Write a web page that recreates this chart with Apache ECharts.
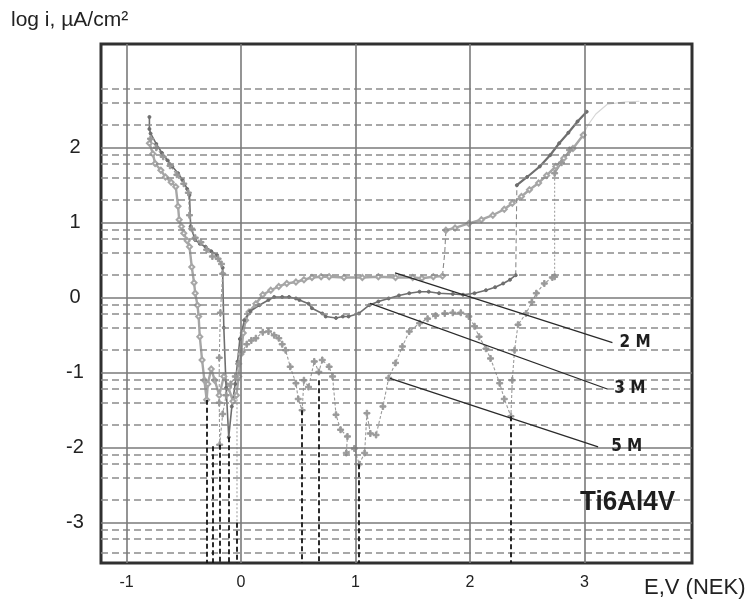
<!DOCTYPE html>
<html>
<head>
<meta charset="utf-8">
<script src="https://cdn.jsdelivr.net/npm/echarts@6/dist/echarts.min.js"></script>
<style>
html,body{margin:0;padding:0;background:#fff}
#chart{width:753px;height:599px}
</style>
</head>
<body>
<div id="chart"></div>
<script>
// Axis extents and grid values (E in volts, log i in µA/cm²)
const X_MIN = -1.223, X_MAX = 3.94;
const Y_MIN = -3.537, Y_MAX = 3.383;
const xTicks = [-1, 0, 1, 2, 3];
const yTicks = [-3, -2, -1, 0, 1, 2];
const yMinor = [-3.40, -3.22, -3.10, -2.70, -2.40, -2.22, -2.10, -1.70, -1.40, -1.22, -1.10,
                -0.70, -0.40, -0.22, -0.10, 0.30, 0.60, 0.78, 0.90, 1.30, 1.60, 1.78, 1.90,
                2.30, 2.60, 2.78];

// 2 M solution
const curve2M = [[-0.80,2.06],[-0.77,1.92],[-0.75,1.79],[-0.70,1.70],[-0.66,1.61],[-0.61,1.54],[-0.57,1.48],
  [-0.55,1.22],[-0.54,1.04],[-0.52,0.95],[-0.50,0.86],[-0.47,0.76],[-0.45,0.68],[-0.43,0.41],[-0.41,0.20],
  [-0.40,0.06],[-0.38,-0.10],[-0.37,-0.25],[-0.36,-0.52],[-0.34,-0.83],[-0.32,-1.10],[-0.30,-1.36],
  [-0.29,-1.15],[-0.26,-0.95],[-0.23,-1.10],[-0.19,-1.30],[-0.15,-1.05],[-0.11,-1.20],[-0.07,-1.38],
  [-0.04,-1.30],[-0.02,-1.05],[0.00,-0.75],[0.02,-0.47],[0.04,-0.30],[0.07,-0.19],[0.13,-0.08],[0.19,0.04],
  [0.26,0.10],[0.33,0.15],[0.40,0.19],[0.48,0.21],[0.55,0.24],[0.62,0.27],[0.70,0.28],[0.77,0.28],
  [0.90,0.27],[1.06,0.27],[1.20,0.28],[1.35,0.27],[1.50,0.27],[1.58,0.26],[1.68,0.28],[1.76,0.29]];
const curve2MHigh = [[1.79,0.90],[1.87,0.93],[1.99,0.99],[2.10,1.04],[2.20,1.10],[2.30,1.18],[2.37,1.26],
  [2.45,1.35],[2.52,1.44],[2.60,1.53],[2.67,1.63],[2.75,1.75],[2.82,1.86],[2.90,1.99],[2.99,2.17]];
const curve2MTail = [[2.99,2.17],[3.03,2.30],[3.10,2.45],[3.20,2.58],[3.35,2.61],[3.48,2.62]];
const jump2M = [[1.76,0.29],[1.78,0.60],[1.79,0.90]];

// 3 M solution
const curve3M = [[-0.80,2.41],[-0.80,2.25],[-0.79,2.19],[-0.74,2.05],[-0.69,1.93],[-0.64,1.83],[-0.60,1.75],
  [-0.55,1.66],[-0.51,1.57],[-0.47,1.45],[-0.45,1.37],[-0.44,0.95],[-0.40,0.77],[-0.36,0.72],[-0.31,0.68],
  [-0.26,0.62],[-0.21,0.57],[-0.16,0.40],[-0.16,0.33],[-0.15,-0.40],[-0.13,-1.20],[-0.107,-1.86],
  [-0.08,-1.45],[-0.05,-1.15],[-0.03,-0.85],[-0.01,-0.55],[0.03,-0.30],[0.08,-0.18],[0.16,-0.10],
  [0.24,-0.03],[0.29,0.01],[0.36,0.01],[0.42,0.01],[0.48,-0.01],[0.51,-0.03],[0.59,-0.08],[0.62,-0.14],
  [0.71,-0.21],[0.74,-0.25],[0.83,-0.27],[0.89,-0.25],[0.94,-0.25],[1.03,-0.21],[1.12,-0.10],[1.20,-0.05],
  [1.29,-0.01],[1.38,0.03],[1.47,0.06],[1.56,0.08],[1.64,0.08],[1.73,0.06],[1.85,0.05],[1.94,0.04],
  [2.04,0.06],[2.14,0.10],[2.22,0.14],[2.29,0.19],[2.35,0.24],[2.40,0.30]];
const curve3MHigh = [[2.41,1.50],[2.50,1.61],[2.61,1.75],[2.70,1.90],[2.78,2.06],[2.86,2.20],[2.94,2.35],[3.02,2.48]];
const jump3M = [[2.40,0.30],[2.41,1.50]];

// 5 M solution
const curve5M = [[-0.79,2.12],[-0.74,2.00],[-0.68,1.88],[-0.62,1.76],[-0.56,1.64],[-0.50,1.52],[-0.46,1.40],
  [-0.45,1.10],[-0.43,0.92],[-0.40,0.80],[-0.35,0.74],[-0.30,0.64],[-0.25,0.55],[-0.20,0.52],[-0.17,0.45],
  [-0.16,0.32],[-0.18,-0.20],[-0.19,-0.80],[-0.19,-1.40],[-0.186,-1.96],[-0.16,-1.55],[-0.13,-1.30],
  [-0.09,-1.15],[-0.05,-1.05],[-0.02,-0.88],[0.01,-0.72],[0.05,-0.62],[0.09,-0.57],[0.13,-0.54],
  [0.19,-0.46],[0.24,-0.45],[0.29,-0.50],[0.33,-0.54],[0.36,-0.62],[0.39,-0.70],[0.43,-0.92],[0.48,-1.14],
  [0.50,-1.35],[0.534,-1.50],[0.55,-1.10],[0.59,-1.19],[0.64,-0.85],[0.68,-0.99],[0.71,-0.83],[0.77,-0.92],
  [0.80,-1.05],[0.83,-1.56],[0.87,-1.76],[0.93,-1.85],[0.92,-2.07],[0.99,-2.01],[1.033,-2.22],[1.08,-2.07],
  [1.10,-1.54],[1.13,-1.81],[1.18,-1.83],[1.24,-1.45],[1.29,-1.07],[1.35,-0.87],[1.41,-0.65],[1.47,-0.45],
  [1.56,-0.34],[1.63,-0.28],[1.70,-0.24],[1.78,-0.21],[1.85,-0.20],[1.92,-0.20],[1.99,-0.25],[2.04,-0.38],
  [2.08,-0.52],[2.14,-0.68],[2.18,-0.81],[2.26,-1.14],[2.30,-1.35],[2.358,-1.58],[2.37,-1.10],[2.39,-0.70],
  [2.42,-0.36],[2.49,-0.21],[2.54,-0.06],[2.58,0.06],[2.65,0.19],[2.72,0.27],[2.74,0.28]];
const curve5MHigh = [[2.74,1.66],[2.80,1.80],[2.87,1.97]];
const jump5M = [[2.74,0.28],[2.74,1.66]];

// Corrosion potentials: vertical drops to the E axis
const dropE = [-0.302, -0.245, -0.186, -0.107, -0.035, 0.534, 0.683, 1.033, 2.358];
const dropTop = [-1.36, -1.98, -1.96, -1.86, -3.00, -1.50, -1.10, -2.22, -1.58];
const dotted0 = [[-0.035,-1.30],[-0.035,-3.00]];

// Leader lines to the concentration labels
const labelNames = ['2 M', '3 M', '5 M'];
const leader2M = [[1.346,0.33],[3.245,-0.60]];
const leader3M = [[1.127,-0.075],[3.20,-1.217]];
const leader5M = [[1.302,-1.075],[3.12,-1.99]];

const plusSymbol = 'path://M-1,-4H1V-1H4V1H1V4H-1V1H-4V-1H-1Z';
const labelFont = '"Liberation Sans Narrow","DejaVu Sans Condensed","Liberation Sans",Arial,sans-serif';
const textFont = '"Liberation Sans",Arial,sans-serif';

function curve(data, color, width, symbol, size, dash, extra) {
  return Object.assign({
    type: 'line', data: data, z: 3, silent: true, animation: false,
    symbol: symbol || 'none', symbolSize: size || 4, showSymbol: !!symbol,
    lineStyle: { color: color, width: width, type: dash || 'solid' },
    itemStyle: { color: color, borderColor: color }
  }, extra || {});
}

function leader(data, name, dist) {
  return {
    type: 'line', data: data, z: 5, silent: true, animation: false,
    symbol: 'none', lineStyle: { color: '#2a2a2a', width: 1.3 },
    endLabel: { show: true, formatter: name, distance: dist, color: '#1e1e1e',
      fontSize: 17, fontWeight: 'bold', fontFamily: labelFont }
  };
}

const chart = echarts.init(document.getElementById('chart'), null, { renderer: 'canvas' });

chart.setOption({
  backgroundColor: '#fff',
  animation: false,
  grid: { left: 101, top: 44, width: 591, height: 519, show: true,
          borderColor: '#303030', borderWidth: 3, backgroundColor: 'transparent' },
  xAxis: {
    type: 'value', min: X_MIN, max: X_MAX,
    axisLine: { show: false }, axisTick: { show: false }, splitLine: { show: false },
    axisLabel: { customValues: xTicks, margin: 12, fontSize: 16, color: '#222', fontFamily: textFont }
  },
  yAxis: {
    type: 'value', min: Y_MIN, max: Y_MAX,
    axisLine: { show: false }, axisTick: { show: false }, splitLine: { show: false },
    axisLabel: { customValues: yTicks, margin: 26, align: 'center', fontSize: 20, color: '#222',
                 fontFamily: textFont }
  },
  graphic: [
    { type: 'text', left: 11, top: 10, z: 10,
      style: { text: 'log i, µA/cm²', fontSize: 21, fill: '#222', fontFamily: textFont } },
    { type: 'text', left: 644, top: 577, z: 10,
      style: { text: 'E,V (NEK)', fontSize: 22, fill: '#222', fontFamily: textFont } },
    { type: 'text', left: 580, top: 488, z: 10, scaleX: 0.93,
      style: { text: 'Ti6Al4V', fontSize: 28, fontWeight: 'bold', fill: '#1e1e1e', fontFamily: textFont } }
  ],
  series: [
    // grid: minor (dashed) and major (solid) lines
    { type: 'line', data: [], z: 1, silent: true,
      markLine: { silent: true, symbol: 'none', label: { show: false }, animation: false,
        lineStyle: { color: '#8c8c8c', width: 1.6, type: [7, 4] },
        data: yMinor.map(v => ({ yAxis: v })) } },
    { type: 'line', data: [], z: 1, silent: true,
      markLine: { silent: true, symbol: 'none', label: { show: false }, animation: false,
        lineStyle: { color: '#7a7a7a', width: 1.6, type: 'solid' },
        data: yTicks.map(v => ({ yAxis: v })).concat(xTicks.map(v => ({ xAxis: v }))) } },

    // polarization curves
    curve(curve2M, '#a6a6a6', 2.4, 'emptyDiamond', 5),
    curve(curve2MHigh, '#a6a6a6', 2.4, 'emptyDiamond', 5),
    curve(curve2MTail, '#d6d6d6', 1.2),
    curve(jump2M, '#8a8a8a', 1.1, null, null, [5, 3]),

    curve(curve3M, '#6e6e6e', 1.6, 'circle', 3),
    curve(curve3MHigh, '#6e6e6e', 2.2, 'circle', 3),
    curve(jump3M, '#8a8a8a', 1.1, null, null, [5, 3]),

    curve(curve5M, '#9a9a9a', 1.1, plusSymbol, 6, [3, 2]),
    curve(curve5MHigh, '#9a9a9a', 1.6, plusSymbol, 6),
    curve(jump5M, '#a0a0a0', 1.1, null, null, [2, 2]),
    curve(dotted0, '#a0a0a0', 1.1, null, null, [2, 2]),

    // drops from the minima to the potential axis
    { type: 'line', data: [], z: 4, silent: true,
      markLine: { silent: true, symbol: 'none', label: { show: false }, animation: false,
        lineStyle: { color: '#151515', width: 1.8, type: [5, 3] },
        data: dropE.map((e, i) => [{ coord: [e, dropTop[i]] }, { coord: [e, Y_MIN] }]) } },

    leader(leader2M, labelNames[0], 7),
    leader(leader3M, labelNames[1], 7),
    leader(leader5M, labelNames[2], 13)
  ]
});
</script>
</body>
</html>
